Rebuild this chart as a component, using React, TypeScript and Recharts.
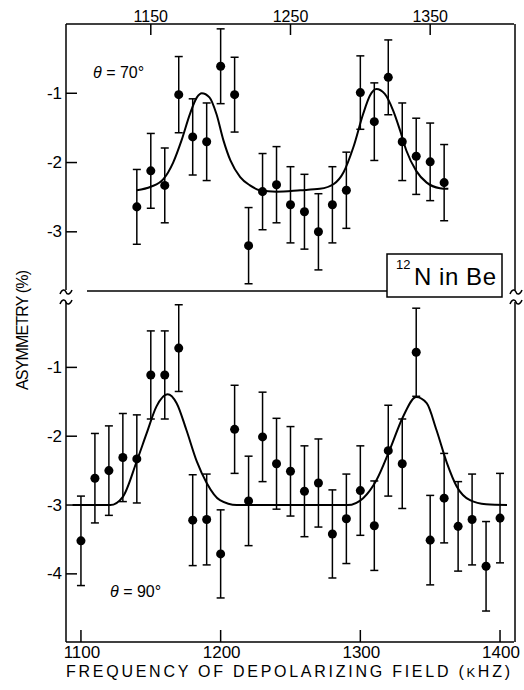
import React from "react";
import { ComposedChart, Line, Scatter, ErrorBar, XAxis, YAxis } from "recharts";

// ---- data ----
// theta = 70 deg panel
const TOP_F = [1140, 1150, 1160, 1170, 1180, 1190, 1200, 1210, 1220, 1230, 1240, 1250, 1260, 1270, 1280, 1290, 1300, 1310, 1320, 1330, 1340, 1350, 1360];
const TOP_V = [-2.64, -2.12, -2.33, -1.02, -1.63, -1.70, -0.61, -1.02, -3.20, -2.42, -2.32, -2.61, -2.71, -3.00, -2.61, -2.40, -0.99, -1.41, -0.77, -1.70, -1.91, -1.99, -2.29];
const TOP_ERR = [0.54, 0.54, 0.54, 0.55, 0.55, 0.56, 0.54, 0.54, 0.55, 0.55, 0.55, 0.55, 0.54, 0.55, 0.55, 0.55, 0.53, 0.56, 0.54, 0.56, 0.55, 0.56, 0.55];
const TOP_CURVE_F = [1140, 1150, 1159, 1166, 1172, 1178, 1183, 1186.5, 1192, 1197, 1202, 1207, 1214, 1221, 1228, 1240, 1257, 1271, 1281, 1288, 1295, 1302, 1307, 1311.5, 1317.5, 1323.5, 1328.5, 1333, 1340, 1347.5, 1357, 1363];
const TOP_CURVE_V = [-2.40, -2.35, -2.24, -2.00, -1.68, -1.30, -1.06, -1.00, -1.06, -1.30, -1.68, -1.97, -2.21, -2.33, -2.40, -2.42, -2.40, -2.38, -2.31, -2.14, -1.78, -1.30, -1.03, -0.94, -1.01, -1.25, -1.54, -1.83, -2.12, -2.29, -2.37, -2.38];

// theta = 90 deg panel
const BOT_F = [1100, 1110, 1120, 1130, 1140, 1150, 1160, 1170, 1180, 1190, 1200, 1210, 1220, 1230, 1240, 1250, 1260, 1270, 1280, 1290, 1300, 1310, 1320, 1330, 1340, 1350, 1360, 1370, 1380, 1390, 1400];
const BOT_V = [-3.52, -2.61, -2.50, -2.31, -2.33, -1.11, -1.11, -0.72, -3.22, -3.21, -3.71, -1.90, -2.94, -2.01, -2.40, -2.51, -2.80, -2.68, -3.42, -3.20, -2.79, -3.30, -2.21, -2.40, -0.78, -3.51, -2.90, -3.31, -3.21, -3.89, -3.19];
const BOT_ERR = [0.65, 0.65, 0.65, 0.64, 0.64, 0.64, 0.64, 0.63, 0.66, 0.66, 0.64, 0.64, 0.65, 0.65, 0.66, 0.65, 0.66, 0.64, 0.64, 0.65, 0.65, 0.65, 0.66, 0.65, 0.64, 0.65, 0.65, 0.65, 0.66, 0.65, 0.65];
const BOT_CURVE_F = [1094, 1110, 1121, 1130, 1140, 1147, 1154, 1162, 1168.5, 1175.5, 1183, 1190, 1199.5, 1211.5, 1250, 1291, 1302, 1311.5, 1321, 1330.5, 1340, 1347.5, 1354.5, 1362, 1369, 1378.5, 1390, 1405];
const BOT_CURVE_V = [-3.0, -3.0, -3.0, -2.88, -2.36, -1.96, -1.57, -1.39, -1.52, -1.91, -2.37, -2.68, -2.93, -3.0, -3.0, -3.0, -2.90, -2.64, -2.20, -1.72, -1.43, -1.52, -1.91, -2.39, -2.73, -2.93, -2.99, -3.0];

const TOP_XTICKS = [1150, 1250, 1350];
const BOT_XTICKS = [1100, 1200, 1300, 1400];
const TOP_YTICKS = [-1, -2, -3];
const BOT_YTICKS = [-1, -2, -3, -4];

const topPts = TOP_F.map((f, i) => ({ f, v: TOP_V[i], e: TOP_ERR[i] }));
const botPts = BOT_F.map((f, i) => ({ f, v: BOT_V[i], e: BOT_ERR[i] }));
const topCurve = TOP_CURVE_F.map((f, i) => ({ f, v: TOP_CURVE_V[i] }));
const botCurve = BOT_CURVE_F.map((f, i) => ({ f, v: BOT_CURVE_V[i] }));

// ---- layout ----
const W = 524;
const H = 690;
const FONT = "'Liberation Sans', Arial, sans-serif";
const AX_L = 66;
const AX_R = 514;
const TOP_Y0 = 24;
const TOP_Y1 = 290;
const BOT_Y0 = 302;
const BOT_Y1 = 642;
const X_DOMAIN: [number, number] = [1089.3, 1410];

const TopTick = (props: any) => {
  const { x, payload } = props;
  return (
    <g>
      <line x1={x} x2={x} y1={TOP_Y0} y2={TOP_Y0 + 11} stroke="#000" strokeWidth={1.5} />
      <text x={x} y={16} textAnchor="middle" dominantBaseline="central" fontSize={16} fontFamily={FONT} fill="#000">
        {payload.value}
      </text>
    </g>
  );
};

const BottomTick = (props: any) => {
  const { x, payload } = props;
  return (
    <g>
      <line x1={x} x2={x} y1={BOT_Y1} y2={BOT_Y1 - 12} stroke="#000" strokeWidth={1.5} />
      <text x={x + 1} y={652} textAnchor="middle" dominantBaseline="central" fontSize={17} fontFamily={FONT} fill="#000">
        {payload.value}
      </text>
    </g>
  );
};

const LeftTick = (props: any) => {
  const { y, payload } = props;
  return (
    <g>
      <line x1={AX_L} x2={AX_L + 11} y1={y} y2={y} stroke="#000" strokeWidth={1.5} />
      <text x={AX_L - 4} y={y} textAnchor="end" dominantBaseline="central" fontSize={17} fontFamily={FONT} fill="#000">
        {payload.value}
      </text>
    </g>
  );
};

const tilde = (cx: number, cy: number) =>
  `M ${cx - 6} ${cy + 2} C ${cx - 4} ${cy - 3}, ${cx - 1} ${cy - 3}, ${cx} ${cy} S ${cx + 4} ${cy + 3}, ${cx + 6} ${cy - 2}`;

export default function App() {
  return (
    <div style={{ position: "absolute", left: 0, top: 0, width: W, height: H, background: "#fff" }}>
      {/* lower panel: theta = 90 */}
      <div style={{ position: "absolute", left: 0, top: 0 }}>
        <ComposedChart width={W} height={H} margin={{ top: BOT_Y0, right: W - AX_R, bottom: H - BOT_Y1 - 24, left: 0 }}>
          <XAxis
            type="number"
            dataKey="f"
            domain={X_DOMAIN}
            allowDataOverflow
            ticks={BOT_XTICKS}
            interval={0}
            height={24}
            axisLine={{ stroke: "#000", strokeWidth: 1.5 }}
            tickLine={false}
            tick={BottomTick}
          />
          <YAxis
            type="number"
            dataKey="v"
            domain={[-4.99, -0.05]}
            allowDataOverflow
            ticks={BOT_YTICKS}
            interval={0}
            width={AX_L}
            axisLine={{ stroke: "#000", strokeWidth: 1.5 }}
            tickLine={false}
            tick={LeftTick}
          />
          <Line data={botCurve} dataKey="v" type="monotone" dot={false} stroke="#000" strokeWidth={2} isAnimationActive={false} />
          <Scatter data={botPts} fill="#000" isAnimationActive={false}>
            <ErrorBar dataKey="e" direction="y" width={4} stroke="#000" strokeWidth={1.5} isAnimationActive={false} />
          </Scatter>
        </ComposedChart>
      </div>
      {/* upper panel: theta = 70 */}
      <div style={{ position: "absolute", left: 0, top: 0 }}>
        <ComposedChart width={W} height={300} margin={{ top: 0, right: W - AX_R, bottom: 300 - TOP_Y1, left: 0 }}>
          <XAxis
            type="number"
            dataKey="f"
            orientation="top"
            domain={X_DOMAIN}
            allowDataOverflow
            ticks={TOP_XTICKS}
            interval={0}
            height={TOP_Y0}
            axisLine={{ stroke: "#000", strokeWidth: 1.5 }}
            tickLine={false}
            tick={TopTick}
          />
          <YAxis
            type="number"
            dataKey="v"
            domain={[-3.84, 0]}
            allowDataOverflow
            ticks={TOP_YTICKS}
            interval={0}
            width={AX_L}
            axisLine={{ stroke: "#000", strokeWidth: 1.5 }}
            tickLine={false}
            tick={LeftTick}
          />
          <Line data={topCurve} dataKey="v" type="monotone" dot={false} stroke="#000" strokeWidth={2} isAnimationActive={false} />
          <Scatter data={topPts} fill="#000" isAnimationActive={false}>
            <ErrorBar dataKey="e" direction="y" width={4} stroke="#000" strokeWidth={1.5} isAnimationActive={false} />
          </Scatter>
        </ComposedChart>
      </div>
      {/* decorations */}
      <svg width={W} height={H} style={{ position: "absolute", left: 0, top: 0, pointerEvents: "none" }}>
        <g stroke="#000" strokeWidth={1.5} fill="none">
          <line x1={AX_R + 1} x2={AX_R + 1} y1={TOP_Y0} y2={TOP_Y1} />
          <line x1={AX_R + 1} x2={AX_R + 1} y1={BOT_Y0} y2={BOT_Y1} />
          <line x1={87} x2={387} y1={291} y2={291} />
          <path d={tilde(AX_L, 292)} />
          <path d={tilde(AX_L, 302)} />
          <path d={tilde(AX_R + 2, 292)} />
          <path d={tilde(AX_R + 2, 302)} />
        </g>
        <rect x={387} y={254} width={115} height={43} fill="#fff" stroke="#000" strokeWidth={1.5} />
        <text x={396} y={269} fontSize={13} fontFamily={FONT} fill="#000">12</text>
        <text x={414} y={285} fontSize={24} fontFamily={FONT} fill="#000" textLength={82} lengthAdjust="spacing">N in Be</text>
        <text x={93} y={72} dominantBaseline="central" fontSize={16} fontFamily={FONT} fill="#000">
          <tspan fontStyle="italic">θ</tspan> = 70°
        </text>
        <text x={110} y={591} dominantBaseline="central" fontSize={16} fontFamily={FONT} fill="#000">
          <tspan fontStyle="italic">θ</tspan> = 90°
        </text>
        <text x={66} y={677} fontSize={16} fontFamily={FONT} fill="#000" textLength={444} lengthAdjust="spacing">
          FREQUENCY OF DEPOLARIZING FIELD (<tspan fontSize={13}>K</tspan>HZ)
        </text>
        <text
          x={22}
          y={330}
          transform="rotate(-90 22 330)"
          textAnchor="middle"
          dominantBaseline="central"
          fontSize={16}
          fontFamily={FONT}
          fill="#000"
          textLength={120}
          lengthAdjust="spacing"
        >
          ASYMMETRY (%)
        </text>
      </svg>
    </div>
  );
}
